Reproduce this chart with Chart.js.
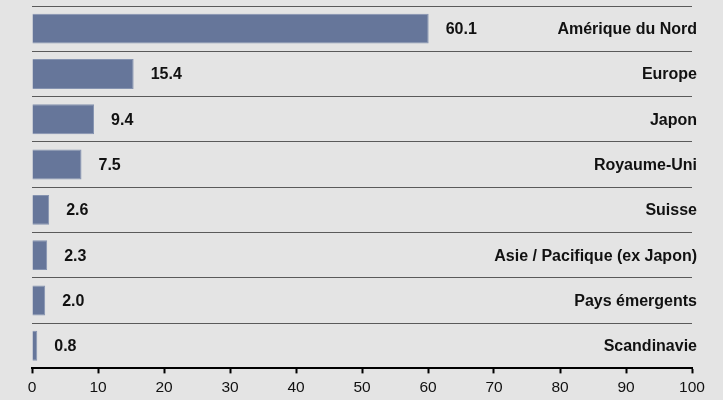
<!DOCTYPE html>
<html>
<head>
<meta charset="utf-8">
<script src="https://cdn.jsdelivr.net/npm/chart.js@4"></script>
<style>
  html, body { margin: 0; padding: 0; background: #e4e4e4; }
  #wrap { width: 723px; height: 400px; }
</style>
</head>
<body>
<div id="wrap"><canvas id="myChart" width="723" height="400"></canvas></div>
<script>
const regions = ['Amérique du Nord', 'Europe', 'Japon', 'Royaume-Uni', 'Suisse', 'Asie / Pacifique (ex Japon)', 'Pays émergents', 'Scandinavie'];
const weights = [60.1, 15.4, 9.4, 7.5, 2.6, 2.3, 2.0, 0.8];
const xTicks = [0, 10, 20, 30, 40, 50, 60, 70, 80, 90, 100];

// labels: value after the bar, region name on the right side
const barLabels = {
    id: 'barLabels',
    afterDatasetsDraw(chart) {
        const ctx = chart.ctx;
        const x = chart.scales.x;
        const y = chart.scales.y;
        ctx.save();
        ctx.font = 'bold 16px "Liberation Sans", Arial, sans-serif';
        ctx.fillStyle = '#111';
        ctx.textBaseline = 'middle';
        weights.forEach((v, i) => {
            const py = y.getPixelForValue(i);
            ctx.textAlign = 'left';
            ctx.fillText(v.toFixed(1), x.getPixelForValue(v) + 17, py + 1);
            ctx.textAlign = 'right';
            ctx.fillText(regions[i], x.right + 5, py + 1);
        });
        ctx.restore();
    }
};

function createChart() {
    const ctx = document.getElementById('myChart').getContext('2d');
    new Chart(ctx, {
        type: 'bar',
        data: {
            labels: regions,
            datasets: [{
                data: weights,
                backgroundColor: '#66769a',
                borderColor: '#8593b0',
                borderWidth: 1,
                barPercentage: 0.66,
                categoryPercentage: 1
            }]
        },
        options: {
            indexAxis: 'y',
            responsive: false,
            animation: false,
            layout: { padding: { left: 32, right: 31, top: 6, bottom: -2 } },
            plugins: { legend: { display: false }, tooltip: { enabled: false } },
            scales: {
                x: {
                    min: 0,
                    max: 100,
                    afterBuildTicks: axis => { axis.ticks = xTicks.map(v => ({ value: v })); },
                    grid: { drawOnChartArea: false, drawTicks: true, tickLength: 5, tickWidth: 2, color: '#000' },
                    border: { display: true, color: '#000', width: 2 },
                    ticks: { color: '#111', padding: 5, font: { family: '"Liberation Sans", Arial, sans-serif', size: 15.5 } }
                },
                y: {
                    grid: { offset: true, color: '#5a5a5a', lineWidth: 1, drawTicks: false },
                    border: { display: false },
                    ticks: { display: false }
                }
            }
        },
        plugins: [barLabels]
    });
}

document.addEventListener('DOMContentLoaded', createChart);
</script>
</body>
</html>
